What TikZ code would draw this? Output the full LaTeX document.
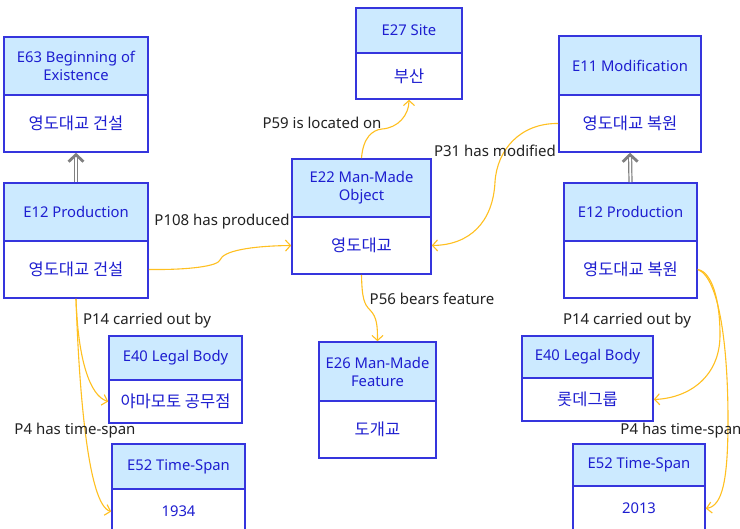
\documentclass[tikz,border=0pt]{standalone}
\usepackage{fontspec}
\setmainfont{Noto Sans}
\newfontfamily\krfont{Noto Sans CJK KR}
\usetikzlibrary{arrows.meta}
\definecolor{hdrfill}{HTML}{CCEAFF}
\definecolor{boxline}{HTML}{3535DD}
\definecolor{boxtext}{HTML}{1E1ED0}
\definecolor{conn}{HTML}{FFC020}
\definecolor{lbl}{HTML}{222222}
\tikzset{
  hdr/.style={draw=boxline, line width=1.6pt, fill=hdrfill, inner sep=0pt, align=center,
    text=boxtext, font=\fontsize{14.8}{18}\selectfont},
  bdy/.style={draw=boxline, line width=1.6pt, fill=white, inner sep=0pt, align=center,
    text=boxtext, font=\krfont\fontsize{16.5}{19}\selectfont},
  conn/.style={draw=conn, line width=1.1pt, -{Straight Barb[length=5pt,width=11pt,line width=1.1pt]}},
  isa/.style={draw=gray, line width=1.2pt, double=white, double distance=1.8pt,
    -{Straight Barb[length=7pt,width=15pt,line width=2.8pt]}},
  lab/.style={text=lbl, inner sep=0pt, font=\fontsize{15}{18}\selectfont},
}
\newcommand{\crmbox}[8]{%
  \node[hdr, minimum width={(#3-#2)*1pt}, minimum height={(#5-#4)*1pt}] (#1h) at ({(#2+#3)/2},{(#4+#5)/2}) {#7};
  \node[bdy, minimum width={(#3-#2)*1pt}, minimum height={(#6-#5)*1pt}] (#1b) at ({(#2+#3)/2},{(#5+#6)/2}) {#8};
}
\begin{document}
\begin{tikzpicture}[x=1pt,y=-1pt]
\useasboundingbox (0,0) rectangle (740,529);
\clip (0,0) rectangle (740,529);
\fill[white] (0,0) rectangle (740,529);
% boxes
\crmbox{E63}{4}{148}{37}{95}{152}{E63 Beginning of\\Existence}{영도대교 건설}
\crmbox{E12L}{4}{148}{183}{241}{298}{E12 Production}{영도대교 건설}
\crmbox{E27}{356}{462}{8}{53}{99}{E27 Site}{부산}
\crmbox{E22}{292}{431}{159}{217}{274}{E22 Man-Made\\Object}{영도대교}
\crmbox{E11}{559}{701}{36}{95}{152}{E11 Modification}{영도대교 복원}
\crmbox{E12R}{564}{697}{183}{241}{298}{E12 Production}{영도대교 복원}
\crmbox{E40L}{109}{242}{336}{380}{423}{E40 Legal Body}{야마모토 공무점}
\crmbox{E52L}{112}{245}{444}{489}{534}{E52 Time-Span}{\rmfamily\fontsize{14.8}{18}\selectfont 1934}
\crmbox{E26}{319}{436}{342}{401}{458}{E26 Man-Made\\Feature}{도개교}
\crmbox{E40R}{522}{653}{336}{378}{421}{E40 Legal Body}{롯데그룹}
\crmbox{E52R}{573}{705}{444}{486}{531}{E52 Time-Span}{\rmfamily\fontsize{14.8}{18}\selectfont 2013}
% is-a arrows
\draw[isa] (E12Lh.north) -- (E63b.south);
\draw[isa] (E12Rh.north) -- (E11b.south);
% connectors
\draw[conn] (E12Lb.east) .. controls (190,270) and (218,266) .. (220,260)
   .. controls (223,251) and (250,246) .. (E22b.west);
\draw[conn] (E22h.north) .. controls (363,138) and (372,130) .. (382,129)
   .. controls (398,128) and (409,115) .. (E27b.south);
\draw[conn] (E11b.west) .. controls (520,123) and (497,150) .. (495,182)
   .. controls (493,222) and (470,245) .. (E22b.east);
\draw[conn] (E22b.south) .. controls (362,298) and (364,304) .. (370,310)
   .. controls (377,317) and (377.5,326) .. (E26h.north);
\draw[conn] (E12Lb.south) .. controls (78,360) and (90,396) .. (E40Lb.west);
\draw[conn] (E12Lb.south) .. controls (79,390) and (88,505) .. (E52Lb.west);
\draw[conn] (E12Rb.east) .. controls (712,272) and (720,300) .. (720,335)
   .. controls (720,376) and (690,398) .. (E40Rb.east);
\draw[conn] (E12Rb.east) .. controls (720,278) and (728,350) .. (728,420)
   .. controls (728,482) and (722,506) .. (E52Rb.east);
% labels
\node[lab] (l59) at (322,123) {P59 is located on};
\node[lab] (l31) at (495,151) {P31 has modified};
\node[lab] (l108) at (222,222) {P108 has produced};
\node[lab] (l56) at (432,299) {P56 bears feature};
\node[lab] (l14a) at (147,321) {P14 carried out by};
\node[lab] (l4a) at (75,431) {P4 has time-span};
\node[lab] (l14b) at (627,321) {P14 carried out by};
\node[lab] (l4b) at (681,431) {P4 has time-span};
\end{tikzpicture}
\end{document}
